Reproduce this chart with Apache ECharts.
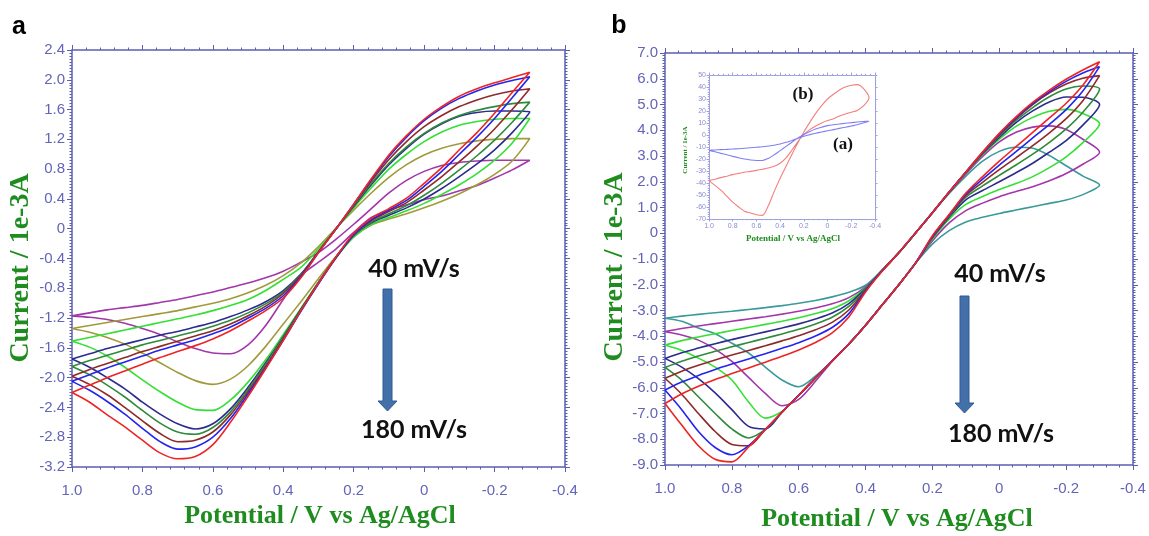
<!DOCTYPE html>
<html><head><meta charset="utf-8">
<script src="https://cdn.jsdelivr.net/npm/echarts/dist/echarts.min.js"></script>
<style>html,body{margin:0;padding:0;background:#fff;}#c{width:1149px;height:536px;}</style>
</head><body><div id="c"></div><script>
// ---------- DATA ----------
// potential grid (V vs Ag/AgCl), forward sweep order
const potential = [1.0,0.95,0.9,0.85,0.8,0.75,0.7,0.65,0.6,0.55,0.5,0.45,0.4,0.35,0.3,0.25,0.2,0.15,0.1,0.05,0,-0.05,-0.1,-0.15,-0.2,-0.25,-0.3];
const rateLabels = ['40 mV/s','60 mV/s','80 mV/s','100 mV/s','120 mV/s','140 mV/s','160 mV/s','180 mV/s'];
const rateLabelsB = ['20 mV/s','40 mV/s','60 mV/s','80 mV/s','100 mV/s','120 mV/s','140 mV/s','160 mV/s'];
const xTicks = [1.0,0.8,0.6,0.4,0.2,0,-0.2,-0.4];
const yTicksA = [2.4,2.0,1.6,1.2,0.8,0.4,0,-0.4,-0.8,-1.2,-1.6,-2.0,-2.4,-2.8,-3.2];
const yTicksB = [7,6,5,4,3,2,1,0,-1,-2,-3,-4,-5,-6,-7,-8,-9];
const yTicksInset = [50,40,30,20,10,0,-10,-20,-30,-40,-50,-60,-70];

// Panel a: current (1e-3 A), upper branch (U) and lower branch (L), both listed on the potential grid
const a40U  = [-1.17,-1.13,-1.09,-1.06,-1.03,-0.99,-0.95,-0.90,-0.85,-0.79,-0.73,-0.66,-0.57,-0.45,-0.32,-0.14,0.06,0.27,0.48,0.65,0.77,0.85,0.89,0.91,0.92,0.92,0.92];
const a40L  = [-1.17,-1.19,-1.22,-1.27,-1.34,-1.42,-1.52,-1.61,-1.67,-1.68,-1.56,-1.30,-0.95,-0.63,-0.45,-0.27,-0.05,0.15,0.25,0.32,0.39,0.44,0.51,0.58,0.68,0.79,0.92];
const a60U  = [-1.34,-1.30,-1.26,-1.22,-1.18,-1.14,-1.10,-1.05,-1.00,-0.94,-0.86,-0.76,-0.63,-0.46,-0.24,0.01,0.25,0.48,0.69,0.86,0.99,1.08,1.14,1.18,1.20,1.21,1.21];
const a60L  = [-1.34,-1.39,-1.46,-1.55,-1.67,-1.80,-1.93,-2.04,-2.09,-2.02,-1.84,-1.58,-1.28,-0.98,-0.67,-0.37,-0.11,0.05,0.13,0.20,0.28,0.37,0.47,0.59,0.73,0.91,1.21];
const a80U  = [-1.51,-1.46,-1.41,-1.36,-1.31,-1.26,-1.21,-1.16,-1.10,-1.03,-0.95,-0.83,-0.68,-0.52,-0.27,0.00,0.28,0.55,0.80,1.00,1.17,1.30,1.39,1.44,1.47,1.48,1.48];
const a80L  = [-1.51,-1.59,-1.71,-1.86,-2.03,-2.19,-2.33,-2.43,-2.44,-2.30,-2.06,-1.76,-1.42,-1.07,-0.72,-0.39,-0.11,0.06,0.15,0.24,0.34,0.46,0.59,0.74,0.92,1.15,1.48];
const a100U = [-1.75,-1.68,-1.61,-1.55,-1.49,-1.43,-1.38,-1.32,-1.26,-1.18,-1.09,-0.98,-0.83,-0.61,-0.31,0.00,0.30,0.59,0.86,1.08,1.27,1.41,1.51,1.56,1.58,1.58,1.57];
const a100L = [-1.75,-1.86,-2.00,-2.15,-2.33,-2.49,-2.62,-2.69,-2.62,-2.42,-2.13,-1.80,-1.45,-1.08,-0.72,-0.38,-0.09,0.08,0.18,0.28,0.40,0.54,0.70,0.87,1.06,1.29,1.57];
const a120U = [-1.85,-1.77,-1.70,-1.63,-1.56,-1.50,-1.44,-1.38,-1.31,-1.23,-1.13,-1.01,-0.85,-0.62,-0.31,0.00,0.31,0.61,0.88,1.10,1.28,1.42,1.52,1.59,1.64,1.68,1.70];
const a120L = [-1.85,-1.96,-2.10,-2.26,-2.44,-2.61,-2.73,-2.76,-2.67,-2.46,-2.16,-1.82,-1.46,-1.09,-0.72,-0.38,-0.09,0.09,0.20,0.31,0.45,0.61,0.79,0.98,1.19,1.43,1.70];
const a140U = [-1.98,-1.89,-1.81,-1.73,-1.65,-1.58,-1.51,-1.44,-1.37,-1.28,-1.17,-1.04,-0.87,-0.63,-0.31,0.00,0.32,0.64,0.93,1.17,1.37,1.52,1.64,1.73,1.80,1.85,1.88];
const a140L = [-1.98,-2.09,-2.23,-2.40,-2.58,-2.75,-2.86,-2.84,-2.73,-2.50,-2.19,-1.85,-1.48,-1.10,-0.73,-0.38,-0.08,0.11,0.23,0.35,0.52,0.70,0.90,1.11,1.34,1.60,1.88];
const a160U = [-2.05,-1.96,-1.87,-1.79,-1.71,-1.63,-1.56,-1.49,-1.41,-1.32,-1.20,-1.07,-0.90,-0.65,-0.32,0.00,0.33,0.66,0.97,1.23,1.45,1.62,1.75,1.85,1.93,1.99,2.04];
const a160L = [-2.05,-2.17,-2.32,-2.49,-2.68,-2.86,-2.96,-2.93,-2.80,-2.55,-2.22,-1.87,-1.50,-1.11,-0.74,-0.39,-0.08,0.12,0.25,0.38,0.57,0.77,1.00,1.23,1.48,1.76,2.04];
const a180U = [-2.20,-2.10,-2.00,-1.91,-1.82,-1.73,-1.65,-1.57,-1.48,-1.37,-1.24,-1.10,-0.93,-0.66,-0.32,0.00,0.33,0.67,0.99,1.25,1.47,1.64,1.78,1.88,1.96,2.03,2.10];
const a180L = [-2.20,-2.33,-2.50,-2.66,-2.84,-3.01,-3.09,-3.06,-2.90,-2.60,-2.25,-1.88,-1.50,-1.10,-0.73,-0.38,-0.06,0.14,0.27,0.41,0.61,0.82,1.06,1.29,1.55,1.83,2.10];

// Panel b
const b1U = [-3.30,-3.22,-3.15,-3.09,-3.03,-2.96,-2.89,-2.81,-2.72,-2.61,-2.47,-2.29,-2.02,-1.42,-0.74,0.02,0.80,1.55,2.22,2.80,3.18,3.34,3.30,3.02,2.62,2.22,1.87];
const b1L = [-3.30,-3.42,-3.68,-3.90,-4.27,-4.65,-5.20,-5.70,-5.96,-5.55,-4.96,-4.30,-3.57,-2.78,-1.99,-1.15,-0.42,0.10,0.44,0.62,0.77,0.90,1.03,1.16,1.29,1.50,1.87];
const b2U = [-3.82,-3.70,-3.60,-3.51,-3.42,-3.33,-3.24,-3.14,-3.03,-2.90,-2.74,-2.50,-2.08,-1.43,-0.74,0.02,0.80,1.57,2.30,2.98,3.55,3.92,4.12,4.17,4.03,3.65,3.15];
const b2L = [-3.82,-3.95,-4.15,-4.50,-4.98,-5.60,-6.22,-6.70,-6.45,-5.75,-4.98,-4.30,-3.57,-2.78,-1.99,-1.15,-0.30,0.40,0.88,1.17,1.42,1.62,1.81,2.04,2.32,2.68,3.15];
const b3U = [-4.34,-4.17,-4.03,-3.90,-3.78,-3.66,-3.54,-3.42,-3.28,-3.12,-2.93,-2.62,-2.12,-1.44,-0.75,0.02,0.80,1.58,2.34,3.05,3.65,4.15,4.50,4.74,4.81,4.65,4.25];
const b3L = [-4.34,-4.55,-4.85,-5.20,-5.70,-6.55,-7.18,-6.92,-6.29,-5.62,-4.96,-4.30,-3.57,-2.78,-1.99,-1.15,-0.22,0.55,1.12,1.43,1.70,1.93,2.20,2.55,2.97,3.52,4.25];
const b4U = [-4.86,-4.64,-4.46,-4.29,-4.13,-3.98,-3.83,-3.68,-3.52,-3.33,-3.10,-2.73,-2.15,-1.44,-0.75,0.02,0.80,1.59,2.36,3.08,3.72,4.30,4.75,5.10,5.29,5.28,5.00];
const b4L = [-4.86,-5.20,-5.65,-6.20,-6.85,-7.50,-7.60,-6.95,-6.29,-5.62,-4.96,-4.30,-3.57,-2.78,-1.99,-1.15,-0.18,0.62,1.30,1.66,2.00,2.35,2.72,3.15,3.60,4.20,5.00];
const b5U = [-5.21,-4.97,-4.77,-4.58,-4.41,-4.24,-4.08,-3.91,-3.73,-3.52,-3.26,-2.84,-2.18,-1.45,-0.75,0.02,0.80,1.60,2.37,3.10,3.78,4.38,4.88,5.30,5.60,5.72,5.60];
const b5L = [-5.21,-5.70,-6.35,-7.00,-7.60,-7.95,-7.62,-6.95,-6.29,-5.62,-4.96,-4.30,-3.57,-2.78,-1.99,-1.15,-0.16,0.66,1.40,1.84,2.25,2.65,3.07,3.53,4.05,4.70,5.60];
const b6U = [-5.63,-5.36,-5.13,-4.92,-4.73,-4.55,-4.37,-4.18,-3.98,-3.75,-3.46,-2.98,-2.21,-1.45,-0.75,0.02,0.80,1.60,2.37,3.12,3.82,4.45,5.00,5.45,5.80,6.02,6.12];
const b6L = [-5.63,-6.25,-7.00,-7.70,-8.20,-8.25,-7.62,-6.95,-6.29,-5.62,-4.96,-4.30,-3.57,-2.78,-1.99,-1.15,-0.14,0.69,1.47,1.98,2.47,2.93,3.40,3.90,4.45,5.15,6.12];
const b7U = [-6.09,-5.78,-5.52,-5.29,-5.08,-4.88,-4.68,-4.47,-4.25,-3.99,-3.66,-3.12,-2.24,-1.46,-0.75,0.02,0.80,1.60,2.38,3.14,3.85,4.48,5.03,5.50,5.90,6.22,6.47];
const b7L = [-6.09,-6.85,-7.70,-8.32,-8.60,-8.25,-7.62,-6.95,-6.29,-5.62,-4.96,-4.30,-3.57,-2.78,-1.99,-1.15,-0.12,0.71,1.52,2.10,2.65,3.17,3.70,4.23,4.80,5.52,6.47];
const b8U = [-6.61,-6.24,-5.94,-5.68,-5.45,-5.23,-5.01,-4.78,-4.53,-4.24,-3.87,-3.25,-2.28,-1.47,-0.75,0.02,0.80,1.60,2.38,3.15,3.88,4.52,5.08,5.56,5.98,6.34,6.66];
const b8L = [-6.61,-7.45,-8.25,-8.78,-8.88,-8.30,-7.62,-6.95,-6.29,-5.62,-4.96,-4.30,-3.57,-2.78,-1.99,-1.15,-0.10,0.73,1.56,2.20,2.80,3.36,3.92,4.48,5.05,5.75,6.66];

// Inset: two electrodes (a) and (b)
const insetPotential = [1.0,0.95,0.9,0.85,0.8,0.75,0.7,0.65,0.6,0.55,0.5,0.45,0.4,0.35,0.3,0.25,0.2,0.15,0.1,0.05,0,-0.05,-0.1,-0.15,-0.2,-0.25,-0.3,-0.35];
const insetBFwd = [-38,-42,-46,-51,-56,-60,-63.5,-65,-66.5,-67,-59,-47,-36,-26,-16,-6.5,2.5,10.5,18,24.5,30,34,37.5,40,41.5,42,39,31];
const insetBRev = [-38,-36.8,-35.5,-34.3,-33,-32,-31,-30.3,-29.5,-28.5,-27.5,-26,-23.5,-19,-12.5,-5.5,0.5,4.5,7.5,10,12,13.5,15.8,17.5,19,20.5,24,31];
const insetAFwd = [-12.8,-14,-15.3,-16.5,-17.8,-19,-20,-20.8,-21.2,-21.2,-19.5,-16.5,-13,-9.5,-6,-2.5,0.5,3,5,6.5,7.8,8.6,9.2,9.8,10.3,10.8,11.2,11.5];
const insetARev = [-12.8,-12.5,-12.2,-12.0,-11.7,-11.4,-11.0,-10.6,-10.2,-9.8,-9.2,-8.5,-7.5,-6.1,-4.5,-2.8,-1.0,0.3,1.5,2.5,3.5,4.5,5.5,6.5,7.5,8.5,10.0,11.5];

// ---------- BUILD ----------
const colA = ['#a236aa','#a09a3c','#33e033','#2c2c8e','#2f8a3c','#8e2a2a','#2424ee','#ee2424'];
const colB = ['#3a9a9a','#a236aa','#33e033','#2c2c8e','#2f8a3c','#8e2a2a','#2424ee','#ee2424'];

function loop(xs, up, low) {
  const d = xs.map((x, i) => [x, up[i]]);
  for (let i = xs.length - 2; i >= 0; i--) d.push([xs[i], low[i]]);
  return d;
}
const fmt1 = v => Math.abs(v) < 1e-9 ? '0' : v.toFixed(1);
const fmt0 = v => String(Math.round(v));

const MAIN = {line:'#5b5fb3', w:1.5, tick:5, minor:2.5, label:'#6464b8', fs:15, xm:16, ym:7, xs:5, ys:10};
const INS  = {line:'#9ea2de', w:1, tick:2.5, minor:1.2, label:'#8a8ad0', fs:7, xm:4, ym:3, xs:5, ys:5};

function xAx(grid, pos, labels, c) {
  return {type:'value', gridIndex:grid, position:pos, inverse:true,
    min:xTicks[xTicks.length-1], max:xTicks[0], interval:0.2,
    axisLine:{show:true, onZero:false, lineStyle:{color:c.line, width:c.w}},
    axisTick:{show:true, length:c.tick, lineStyle:{color:c.line, width:1}},
    minorTick:{show:true, splitNumber:c.xs, length:c.minor, lineStyle:{color:c.line, width:1}},
    splitLine:{show:false}, minorSplitLine:{show:false},
    axisLabel:{show:labels, formatter:fmt1, color:c.label, fontSize:c.fs, fontFamily:'Liberation Sans, Arial, sans-serif', margin:c.xm}};
}
function yAx(grid, pos, labels, c, ticks, interval, fmt) {
  return {type:'value', gridIndex:grid, position:pos,
    min:ticks[ticks.length-1], max:ticks[0], interval:interval,
    axisLine:{show:true, onZero:false, lineStyle:{color:c.line, width:c.w}},
    axisTick:{show:true, length:c.tick, lineStyle:{color:c.line, width:1}},
    minorTick:{show:true, splitNumber:c.ys, length:c.minor, lineStyle:{color:c.line, width:1}},
    splitLine:{show:false}, minorSplitLine:{show:false},
    axisLabel:{show:labels, formatter:fmt, color:c.label, fontSize:c.fs, fontFamily:'Liberation Sans, Arial, sans-serif', margin:c.ym}};
}

const series = [];
const aU = [a40U,a60U,a80U,a100U,a120U,a140U,a160U,a180U];
const aL = [a40L,a60L,a80L,a100L,a120L,a140L,a160L,a180L];
aU.forEach((u, k) => series.push({type:'line', name:'a ' + rateLabels[k], xAxisIndex:0, yAxisIndex:0,
  data: loop(potential, u, aL[k]), smooth:0.3, symbol:'none', lineStyle:{width:1.6, color:colA[k]}, itemStyle:{color:colA[k]}}));
const bU = [b1U,b2U,b3U,b4U,b5U,b6U,b7U,b8U];
const bL = [b1L,b2L,b3L,b4L,b5L,b6L,b7L,b8L];
bU.forEach((u, k) => series.push({type:'line', name:'b ' + rateLabelsB[k], xAxisIndex:2, yAxisIndex:2,
  data: loop(potential, u, bL[k]), smooth:0.3, symbol:'none', lineStyle:{width:1.6, color:colB[k]}, itemStyle:{color:colB[k]}}));
series.push({type:'line', name:'inset (b)', xAxisIndex:4, yAxisIndex:4, data: loop(insetPotential, insetBFwd, insetBRev),
  smooth:0.3, symbol:'none', lineStyle:{width:1.1, color:'#f47f7f'}, itemStyle:{color:'#f47f7f'}});
series.push({type:'line', name:'inset (a)', xAxisIndex:4, yAxisIndex:4, data: loop(insetPotential, insetAFwd, insetARev),
  smooth:0.3, symbol:'none', lineStyle:{width:1.1, color:'#7f7ff4'}, itemStyle:{color:'#7f7ff4'}});

const green = '#1e8c1e';
function txt(x, y, text, font, fill, rot) {
  return {type:'text', x:x, y:y, rotation:rot || 0, z:100,
    style:{text:text, font:font, fill:fill, align:'center', verticalAlign:'middle', textAlign:'center', textVerticalAlign:'middle'}};
}
function arrow(cx, top, bottom) {
  const hw = 4.5, hh = 10, hwh = 9.5;
  return {type:'polygon', z:100, shape:{points:[[cx-hw,top],[cx+hw,top],[cx+hw,bottom-hh],[cx+hwh,bottom-hh],[cx,bottom],[cx-hwh,bottom-hh],[cx-hw,bottom-hh]]},
    style:{fill:'#4470aa', stroke:'#2f5a92', lineWidth:1}};
}
const serifB = 'bold 26px "Liberation Serif", "Times New Roman", serif';
const annF = 'bold 25px Lato, "Open Sans", sans-serif';

const option = {
  animation:false,
  backgroundColor:'#ffffff',
  grid:[
    {left:72, top:50, width:493, height:417, containLabel:false, outerBoundsMode:'none'},
    {left:665, top:53, width:468, height:412, containLabel:false, outerBoundsMode:'none'},
    {left:709, top:75, width:166, height:144, containLabel:false, outerBoundsMode:'none', show:true, backgroundColor:'#ffffff', borderWidth:0}
  ],
  xAxis:[xAx(0,'bottom',true,MAIN), xAx(0,'top',false,MAIN), xAx(1,'bottom',true,MAIN), xAx(1,'top',false,MAIN), xAx(2,'bottom',true,INS), xAx(2,'top',false,INS)],
  yAxis:[yAx(0,'left',true,MAIN,yTicksA,0.4,fmt1), yAx(0,'right',false,MAIN,yTicksA,0.4,fmt1),
         yAx(1,'left',true,MAIN,yTicksB,1,fmt1), yAx(1,'right',false,MAIN,yTicksB,1,fmt1),
         yAx(2,'left',true,INS,yTicksInset,10,fmt0), yAx(2,'right',false,INS,yTicksInset,10,fmt0)],
  series:series,
  graphic:[
    txt(19, 27, 'a', 'bold 25px "Liberation Sans", Arial, sans-serif', '#000'),
    txt(619, 26, 'b', 'bold 25px "Liberation Sans", Arial, sans-serif', '#000'),
    txt(21, 268, 'Current / 1e-3A', 'bold 28px "Liberation Serif", "Times New Roman", serif', green, Math.PI/2),
    txt(615, 267, 'Current / 1e-3A', 'bold 28px "Liberation Serif", "Times New Roman", serif', green, Math.PI/2),
    txt(320, 516, 'Potential / V vs Ag/AgCl', serifB, green),
    txt(897, 519, 'Potential / V vs Ag/AgCl', serifB, green),
    txt(414, 269, '40 mV/s', annF, '#111'),
    txt(414, 430, '180 mV/s', annF, '#111'),
    arrow(387.5, 289, 411),
    txt(1000, 274, '40 mV/s', annF, '#111'),
    txt(1001, 434, '180 mV/s', annF, '#111'),
    arrow(964.5, 296, 413),
    txt(803, 95, '(b)', 'bold 17px "Liberation Serif", "Times New Roman", serif', '#111'),
    txt(843, 145, '(a)', 'bold 17px "Liberation Serif", "Times New Roman", serif', '#111'),
    txt(685, 150, 'Current / 1e-3A', 'bold 7px "Liberation Serif", serif', green, Math.PI/2),
    txt(793, 239, 'Potential / V vs Ag/AgCl', 'bold 9px "Liberation Serif", serif', green)
  ]
};
const chart = echarts.init(document.getElementById('c'), null, {renderer:'canvas'});
chart.setOption(option);
</script></body></html>
